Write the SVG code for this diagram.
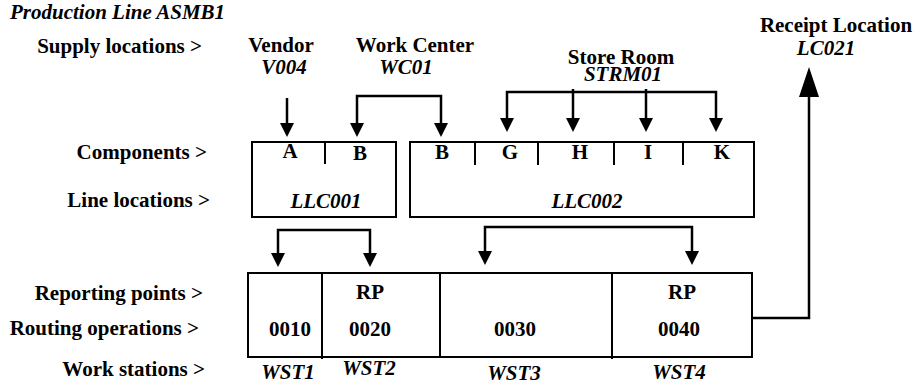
<svg xmlns="http://www.w3.org/2000/svg" width="918" height="385" viewBox="0 0 918 385">
<style>
text{font-family:"Liberation Serif","Times New Roman",serif;font-weight:bold;font-size:21px;fill:#000}
.i{font-style:italic}
.m{text-anchor:middle}
.e{text-anchor:end}
.box{fill:none;stroke:#000;stroke-width:2}
.c{fill:none;stroke:#000;stroke-width:2.5}
</style>
<defs>
<marker id="ah" markerUnits="userSpaceOnUse" markerWidth="14" markerHeight="14" viewBox="0 0 14 14" refX="4" refY="7" orient="auto-start-reverse"><path d="M0,0 L14,7 L0,14 z" fill="#000"/></marker>
<marker id="ahb" markerUnits="userSpaceOnUse" markerWidth="30" markerHeight="20" viewBox="0 0 30 20" refX="4" refY="10" orient="auto"><path d="M0,0 L30,10 L0,20 z" fill="#000"/></marker>
</defs>
<text class="i" x="10" y="19">Production Line ASMB1</text>
<g id="row-labels">
<text class="e" x="202" y="53">Supply locations &gt;</text>
<text class="e" x="207" y="159">Components &gt;</text>
<text class="e" x="210" y="207">Line locations &gt;</text>
<text class="e" x="203" y="300">Reporting points &gt;</text>
<text class="e" x="199" y="335">Routing operations &gt;</text>
<text class="e" x="205" y="376">Work stations &gt;</text>
</g>
<g id="vendor"><text class="m" x="281" y="52">Vendor</text><text class="m i" x="284" y="74">V004</text></g>
<g id="workcenter"><text class="m" x="415" y="52">Work Center</text><text class="m i" x="406" y="74">WC01</text></g>
<g id="storeroom"><text class="m" x="621" y="64">Store Room</text><text class="m i" x="623" y="81">STRM01</text></g>
<g id="receipt"><text class="m" x="836" y="32">Receipt Location</text><text class="m i" x="826" y="55">LC021</text></g>
<g id="llc001">
<rect class="box" x="252" y="142" width="144" height="75"/>
<line class="box" x1="325" y1="142" x2="325" y2="164"/>
<text class="m" x="290" y="158">A</text><text class="m" x="360" y="160">B</text>
<text class="m i" x="326" y="208">LLC001</text>
</g>
<g id="llc002">
<rect class="box" x="410" y="142" width="344" height="75"/>
<path class="box" d="M475,142V165M538,142V165M614,142V165M683,142V165"/>
<text class="m" x="442" y="159">B</text><text class="m" x="510" y="159">G</text><text class="m" x="580" y="159">H</text><text class="m" x="648" y="159">I</text><text class="m" x="722" y="159">K</text>
<text class="m i" x="587" y="208">LLC002</text>
</g>
<g id="routing">
<rect class="box" x="248" y="273" width="504" height="84"/>
<path class="box" d="M322,273V359M440,273V357M612,273V359"/>
<text class="m" x="370" y="299">RP</text><text class="m" x="682" y="299">RP</text>
<text class="m" x="290" y="336">0010</text><text class="m" x="370" y="336">0020</text><text class="m" x="515" y="336">0030</text><text class="m" x="679" y="336">0040</text>
<text class="m i" x="288" y="379">WST1</text><text class="m i" x="369" y="375">WST2</text><text class="m i" x="514" y="380">WST3</text><text class="m i" x="679" y="379">WST4</text>
</g>
<g id="connectors">
<path class="c" d="M287,98V127" marker-end="url(#ah)"/>
<path class="c" d="M357,127V96H441V127" marker-start="url(#ah)" marker-end="url(#ah)"/>
<path class="c" d="M507,122V92H716V122" marker-start="url(#ah)" marker-end="url(#ah)"/>
<path class="c" d="M573,89V122" marker-end="url(#ah)"/>
<path class="c" d="M646,89V122" marker-end="url(#ah)"/>
<path class="c" d="M278,257V230H370V257" marker-start="url(#ah)" marker-end="url(#ah)"/>
<path class="c" d="M485,255V227H692V255" marker-start="url(#ah)" marker-end="url(#ah)"/>
<path class="c" d="M752,318H809V93" marker-end="url(#ahb)"/>
</g>
</svg>
